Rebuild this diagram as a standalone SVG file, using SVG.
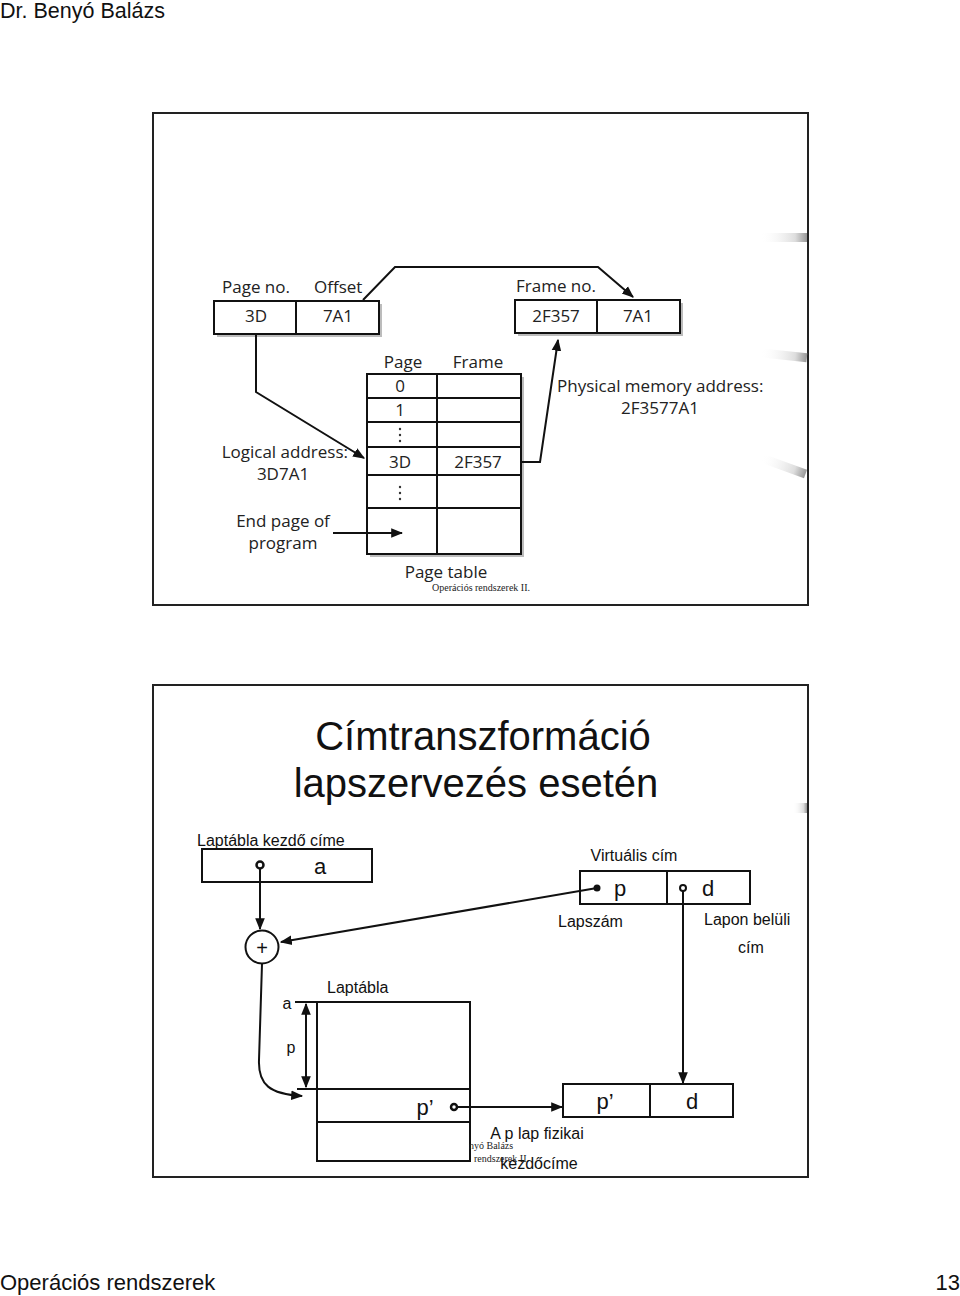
<svg xmlns="http://www.w3.org/2000/svg" width="960" height="1296" viewBox="0 0 960 1296">
<style>
.fg{font-family:"Open Sans","Liberation Sans",sans-serif;fill:#222}
.ar{font-family:"Liberation Sans",Arial,sans-serif;fill:#111}
.sr{font-family:"Liberation Serif","Times New Roman",serif;fill:#222}
.box{fill:#fff;stroke:#111;stroke-width:2}
.ln{fill:none;stroke:#111;stroke-width:2}
.sh{fill:#bcbcbc}
</style>
<defs>
<marker id="ah" viewBox="0 0 10 10" refX="9" refY="5" markerWidth="6" markerHeight="6" orient="auto-start-reverse">
<path d="M0,1 L10,5 L0,9 Z" fill="#111"/>
</marker>
<linearGradient id="streak" x1="0" x2="1" y1="0" y2="0">
<stop offset="0" stop-color="#fff" stop-opacity="0"/>
<stop offset="0.75" stop-color="#ddd"/>
<stop offset="1" stop-color="#999"/>
</linearGradient>
</defs>
<rect width="960" height="1296" fill="#fff"/>
<text class="ar" x="0" y="18" font-size="21.5">Dr. Benyó Balázs</text>

<!-- slide 1 -->
<g id="slide1">
<rect x="153" y="113" width="655" height="492" fill="#fff" stroke="#222" stroke-width="2"/>
<rect x="760" y="233" width="47" height="9" fill="url(#streak)"/>
<rect x="760" y="351" width="47" height="9" fill="url(#streak)" transform="rotate(6 785 355)"/>
<rect x="760" y="462" width="47" height="9" fill="url(#streak)" transform="rotate(20 785 466)"/>
</g>

<g id="logical-box">
<text class="fg" x="222" y="293" font-size="17">Page no.</text>
<text class="fg" x="314" y="293" font-size="17">Offset</text>
<rect class="sh" x="217" y="304" width="165" height="33"/>
<rect class="box" x="214" y="301" width="165" height="33"/>
<line class="ln" x1="296" y1="301" x2="296" y2="334"/>
<text class="fg" x="256" y="322" font-size="17" text-anchor="middle">3D</text>
<text class="fg" x="338" y="322" font-size="17" text-anchor="middle">7A1</text>
</g>

<g id="physical-box">
<text class="fg" x="516" y="292" font-size="17">Frame no.</text>
<rect class="sh" x="518" y="303" width="165" height="33"/>
<rect class="box" x="515" y="300" width="165" height="33"/>
<line class="ln" x1="597" y1="300" x2="597" y2="333"/>
<text class="fg" x="556" y="322" font-size="17" text-anchor="middle">2F357</text>
<text class="fg" x="638" y="322" font-size="17" text-anchor="middle">7A1</text>
</g>

<g id="page-table">
<text class="fg" x="403" y="368" font-size="17" text-anchor="middle">Page</text>
<text class="fg" x="478" y="368" font-size="17" text-anchor="middle">Frame</text>
<rect class="sh" x="370" y="377" width="154" height="180"/>
<rect class="box" x="367" y="374" width="154" height="180"/>
<g class="ln">
<line x1="437" y1="374" x2="437" y2="554"/>
<line x1="367" y1="398" x2="521" y2="398"/>
<line x1="367" y1="422" x2="521" y2="422"/>
<line x1="367" y1="447" x2="521" y2="447"/>
<line x1="367" y1="475" x2="521" y2="475"/>
<line x1="367" y1="508" x2="521" y2="508"/>
</g>
<text class="fg" x="400" y="392" font-size="17" text-anchor="middle">0</text>
<text class="fg" x="400" y="416" font-size="17" text-anchor="middle">1</text>
<g fill="#333"><circle cx="400" cy="429" r="1.2"/><circle cx="400" cy="435" r="1.2"/><circle cx="400" cy="441" r="1.2"/>
<circle cx="400" cy="487" r="1.2"/><circle cx="400" cy="493" r="1.2"/><circle cx="400" cy="499" r="1.2"/></g>
<text class="fg" x="400" y="468" font-size="17" text-anchor="middle">3D</text>
<text class="fg" x="478" y="468" font-size="17" text-anchor="middle">2F357</text>
<text class="fg" x="446" y="578" font-size="17" text-anchor="middle">Page table</text>
<text class="sr" x="481" y="591" font-size="10" text-anchor="middle">Operációs rendszerek II.</text>
</g>

<g id="labels1">
<text class="fg" x="348" y="458" font-size="17" text-anchor="end">Logical address:</text>
<text class="fg" x="283" y="480" font-size="17" text-anchor="middle">3D7A1</text>
<text class="fg" x="283" y="527" font-size="17" text-anchor="middle">End page of</text>
<text class="fg" x="283" y="549" font-size="17" text-anchor="middle">program</text>
<text class="fg" x="557" y="392" font-size="17">Physical memory address:</text>
<text class="fg" x="660" y="414" font-size="17" text-anchor="middle">2F3577A1</text>
</g>

<g id="connectors1" class="ln">
<polyline points="363,300 395,267 598,267 633,297" marker-end="url(#ah)"/>
<polyline points="256,334 256,392 364,458" marker-end="url(#ah)"/>
<line x1="333" y1="533" x2="402" y2="533" marker-end="url(#ah)"/>
<polyline points="521,462 540,462 558,340" marker-end="url(#ah)"/>
</g>

<!-- slide 2 -->
<g id="slide2">
<rect x="153" y="685" width="655" height="492" fill="#fff" stroke="#222" stroke-width="2"/>
<rect x="793" y="803" width="14" height="10" fill="url(#streak)"/>
<text class="ar" x="483" y="750" font-size="40" text-anchor="middle">Címtranszformáció</text>
<text class="ar" x="476" y="797" font-size="40" text-anchor="middle">lapszervezés esetén</text>
</g>

<g id="start-address">
<text class="ar" x="197" y="846" font-size="16">Laptábla kezdő címe</text>
<rect class="box" x="202" y="849" width="170" height="33"/>
<circle cx="260" cy="865" r="3.5" fill="#fff" stroke="#111" stroke-width="2.5"/>
<text class="ar" x="320" y="874" font-size="22" text-anchor="middle">a</text>
</g>

<g id="adder">
<circle cx="262" cy="947" r="16.5" fill="#fff" stroke="#111" stroke-width="2"/>
<text class="ar" x="262" y="955" font-size="20" text-anchor="middle">+</text>
</g>

<g id="virtual-address">
<text class="ar" x="634" y="861" font-size="16" text-anchor="middle">Virtuális cím</text>
<rect class="box" x="580" y="871" width="170" height="33"/>
<line class="ln" x1="667" y1="871" x2="667" y2="904"/>
<circle cx="597" cy="888" r="3.5" fill="#111"/>
<text class="ar" x="620" y="896" font-size="22" text-anchor="middle">p</text>
<circle cx="683" cy="888" r="3" fill="#fff" stroke="#111" stroke-width="2"/>
<text class="ar" x="708" y="896" font-size="22" text-anchor="middle">d</text>
<text class="ar" x="558" y="927" font-size="16">Lapszám</text>
<text class="ar" x="704" y="925" font-size="16">Lapon belüli</text>
<text class="ar" x="751" y="953" font-size="16" text-anchor="middle">cím</text>
</g>

<g id="laptabla">
<text class="ar" x="327" y="993" font-size="16">Laptábla</text>
<rect class="box" x="317" y="1002" width="153" height="159"/>
<line class="ln" x1="297" y1="1089" x2="470" y2="1089"/>
<line class="ln" x1="317" y1="1122" x2="470" y2="1122"/>
<line class="ln" x1="295" y1="1002" x2="317" y2="1002"/>
<line class="ln" x1="306" y1="1004" x2="306" y2="1087" marker-start="url(#ah)" marker-end="url(#ah)"/>
<text class="ar" x="287" y="1009" font-size="16" text-anchor="middle">a</text>
<text class="ar" x="291" y="1053" font-size="16" text-anchor="middle">p</text>
<text class="ar" x="425" y="1115" font-size="22" text-anchor="middle">p’</text>
<circle cx="454" cy="1107" r="3" fill="#fff" stroke="#111" stroke-width="2.5"/>
</g>

<g id="physical-address">
<rect class="box" x="563" y="1084" width="170" height="33"/>
<line class="ln" x1="650" y1="1084" x2="650" y2="1117"/>
<text class="ar" x="605" y="1109" font-size="22" text-anchor="middle">p’</text>
<text class="ar" x="692" y="1109" font-size="22" text-anchor="middle">d</text>
<text class="ar" x="537" y="1139" font-size="16" text-anchor="middle">A p lap fizikai</text>
<text class="sr" x="469" y="1149" font-size="10">nyó Balázs</text>
<text class="sr" x="474" y="1162" font-size="10">rendszerek II.</text>
<text class="ar" x="539" y="1169" font-size="16" text-anchor="middle">kezdőcíme</text>
</g>

<g id="connectors2" class="ln">
<line x1="260" y1="869" x2="260" y2="929" marker-end="url(#ah)"/>
<line x1="597" y1="888" x2="281" y2="942" marker-end="url(#ah)"/>
<path d="M262,964 L259,1060 C258,1085 270,1094 302,1096" marker-end="url(#ah)"/>
<line x1="683" y1="891" x2="683" y2="1083" marker-end="url(#ah)"/>
<line x1="457" y1="1107" x2="562" y2="1107" marker-end="url(#ah)"/>
</g>

<text class="ar" x="0" y="1290" font-size="22">Operációs rendszerek</text>
<text class="ar" x="960" y="1290" font-size="22" text-anchor="end">13</text>
</svg>
